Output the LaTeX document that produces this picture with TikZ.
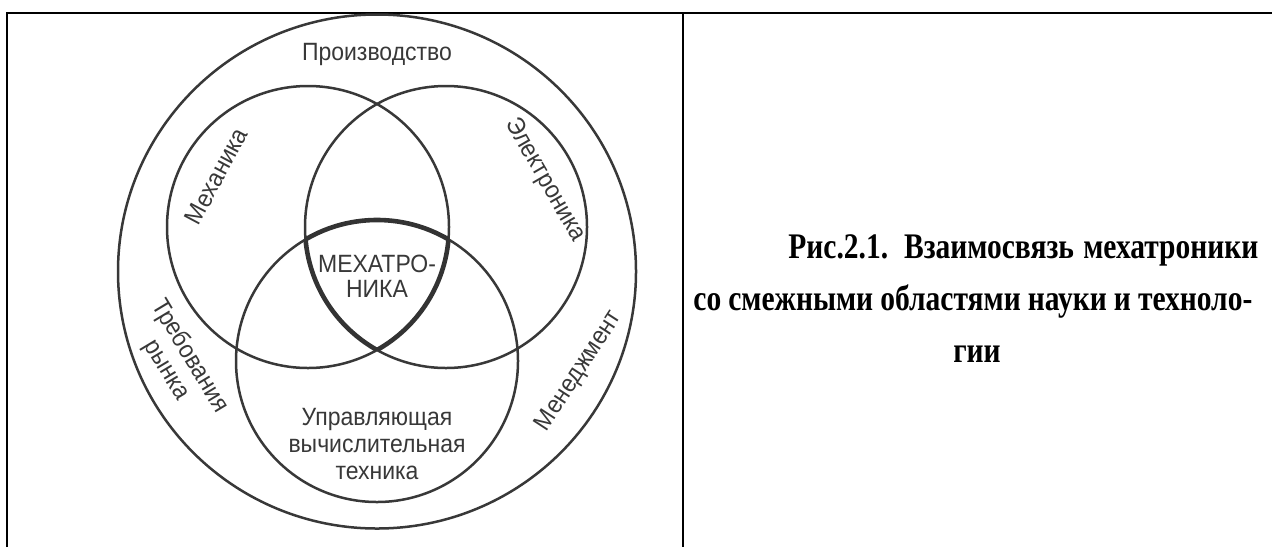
\documentclass[tikz,border=0pt]{standalone}
\usepackage{fontspec}
\setmainfont{Liberation Serif}
\setsansfont[FakeStretch=0.92]{Liberation Sans}
\newfontfamily\capfont[FakeStretch=0.82]{Liberation Serif}
\begin{document}
\begin{tikzpicture}[x=0.5pt,y=-0.5pt]
    \tikzstyle{ring}=[draw=black!78, line width=1.25pt]
    \tikzstyle{core}=[draw=black!80, line width=2.3pt]
    \tikzstyle{frame}=[draw=black, line width=1.1pt]
    \tikzstyle{lbl}=[font=\sffamily\fontsize{12.5}{13.5}\selectfont, text=black!78, align=center, inner sep=0pt]
    \tikzstyle{capline}=[font=\capfont\bfseries\fontsize{18}{20}\selectfont, inner sep=0pt]
    \useasboundingbox (0,0) rectangle (1272,547);
    \coordinate (bl) at (7,547);
    \coordinate (tl) at (7,13);
    \coordinate (tr) at (1272,13);
    \coordinate (mt) at (683,13);
    \coordinate (mb) at (683,547);
    \draw[frame] (bl) -- (tl) -- (tr);
    \draw[frame] (mt) -- (mb);
    \coordinate (outer) at (377,271.5);
    \coordinate (mech) at (308,227);
    \coordinate (elec) at (446,227);
    \coordinate (comp) at (377,361);
    \draw[ring] (outer) ellipse[x radius=259, y radius=257];
    \draw[ring] (mech) circle[radius=141];
    \draw[ring] (elec) circle[radius=141];
    \draw[ring] (comp) circle[radius=141];
    \begin{scope}
        \clip (elec) circle[radius=141];
        \clip (comp) circle[radius=141];
        \draw[core] (mech) circle[radius=141];
    \end{scope}
    \begin{scope}
        \clip (mech) circle[radius=141];
        \clip (comp) circle[radius=141];
        \draw[core] (elec) circle[radius=141];
    \end{scope}
    \begin{scope}
        \clip (mech) circle[radius=141];
        \clip (elec) circle[radius=141];
        \draw[core] (comp) circle[radius=141];
    \end{scope}
    \node[lbl] (prod) at (377,54) {Производство};
    \node[lbl, rotate=62] (mechlbl) at (216,176) {Механика};
    \node[lbl, rotate=-60] (eleclbl) at (545,180) {Электроника};
    \node[lbl, rotate=-59] (market) at (178,363) {Требования\\рынка};
    \node[lbl, rotate=57] (manage) at (579,371) {Менеджмент};
    \node[lbl] (complbl) at (377,444) {Управляющая\\вычислительная\\техника};
    \node[lbl, font=\sffamily\fontsize{12.5}{12.5}\selectfont] (mechatr) at (377,276) {МЕХАТРО-\\НИКА};
    \node[capline, anchor=base west] (cap1) at (788,258) {\makebox[235pt][s]{Рис.2.1. Взаимосвязь мехатроники}};
    \node[capline, anchor=base west] (cap2) at (693,310) {\makebox[279.5pt][s]{со смежными областями науки и техноло-}};
    \node[capline, anchor=base] (cap3) at (977,362) {гии};
\end{tikzpicture}
\end{document}
